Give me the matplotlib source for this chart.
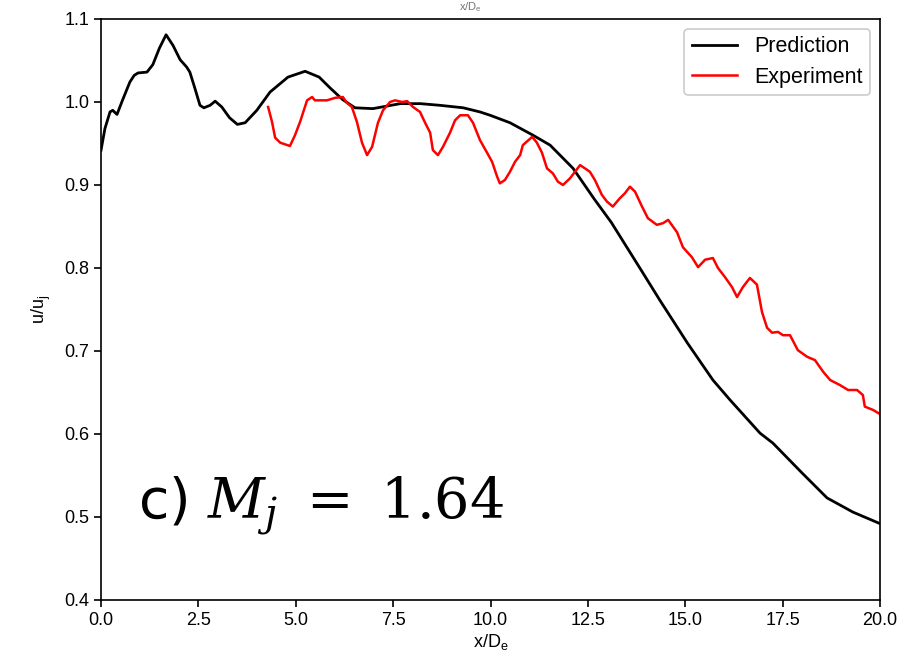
import matplotlib
matplotlib.use("Agg")
import matplotlib.pyplot as plt

plt.rcParams['font.family'] = ['Liberation Sans', 'DejaVu Sans']
plt.rcParams['mathtext.fontset'] = 'custom'
plt.rcParams['mathtext.rm'] = 'Liberation Sans'
plt.rcParams['mathtext.it'] = 'Liberation Sans:italic'

# prediction (black)
x_pred = [0, 0.1, 0.23, 0.3, 0.41, 0.55, 0.74, 0.85, 0.95, 1.18, 1.33, 1.5, 1.67, 1.85,
          2.03, 2.2, 2.28, 2.4, 2.54, 2.64, 2.8, 2.93, 3.1, 3.3, 3.5, 3.7, 4.0, 4.34,
          4.8, 5.24, 5.6, 5.88, 6.2, 6.52, 6.98, 7.68, 8.2, 8.7, 9.3, 9.73, 9.99, 10.5,
          11.09, 11.53, 12.12, 12.68, 13.1, 13.5, 13.9, 14.35, 15.05, 15.71, 16.15,
          16.92, 17.25, 18.0, 18.64, 19.3, 20.0]
y_pred = [0.942, 0.968, 0.988, 0.990, 0.985, 1.002, 1.024, 1.032, 1.035, 1.036, 1.045,
          1.065, 1.081, 1.068, 1.051, 1.042, 1.036, 1.018, 0.996, 0.993, 0.996, 1.001,
          0.994, 0.981, 0.973, 0.975, 0.990, 1.012, 1.030, 1.037, 1.030, 1.017, 1.003,
          0.993, 0.992, 0.998, 0.998, 0.996, 0.993, 0.988, 0.984, 0.975, 0.960, 0.948,
          0.920, 0.882, 0.855, 0.825, 0.795, 0.761, 0.710, 0.665, 0.641, 0.601, 0.589,
          0.553, 0.523, 0.506, 0.492]

# experiment (red)
x_exp = [4.29, 4.39, 4.47, 4.6, 4.85, 4.98, 5.11, 5.29, 5.42, 5.49, 5.8, 6.01, 6.21,
         6.31, 6.44, 6.57, 6.7, 6.83, 6.96, 7.11, 7.24, 7.42, 7.55, 7.73, 7.86, 8.01,
         8.19, 8.32, 8.45, 8.52, 8.65, 8.78, 8.96, 9.09, 9.22, 9.42, 9.55, 9.73, 9.91,
         10.04, 10.17, 10.24, 10.37, 10.5, 10.63, 10.76, 10.83, 11.07, 11.19, 11.32,
         11.45, 11.6, 11.73, 11.86, 12.04, 12.3, 12.55, 12.68, 12.86, 12.99, 13.14,
         13.32, 13.45, 13.58, 13.71, 13.89, 14.04, 14.27, 14.43, 14.56, 14.79, 14.94,
         15.17, 15.33, 15.51, 15.71, 15.84, 16.02, 16.2, 16.33, 16.48, 16.66, 16.84,
         16.97, 17.1, 17.23, 17.38, 17.51, 17.69, 17.89, 18.13, 18.33, 18.54, 18.72,
         18.97, 19.18, 19.41, 19.56, 19.61, 19.82, 20.0]
y_exp = [0.994, 0.976, 0.957, 0.951, 0.947, 0.960, 0.976, 1.002, 1.006, 1.002, 1.002,
         1.005, 1.006, 0.999, 0.994, 0.976, 0.951, 0.936, 0.946, 0.975, 0.990, 1.000,
         1.002, 1.000, 1.001, 0.994, 0.988, 0.975, 0.963, 0.942, 0.936, 0.946, 0.963,
         0.978, 0.984, 0.984, 0.975, 0.954, 0.939, 0.928, 0.910, 0.902, 0.906, 0.916,
         0.928, 0.936, 0.948, 0.958, 0.951, 0.939, 0.920, 0.914, 0.904, 0.900, 0.908,
         0.924, 0.916, 0.906, 0.888, 0.880, 0.874, 0.884, 0.890, 0.898, 0.892, 0.874,
         0.860, 0.852, 0.854, 0.858, 0.843, 0.825, 0.813, 0.801, 0.810, 0.812, 0.800,
         0.789, 0.777, 0.765, 0.777, 0.788, 0.780, 0.747, 0.728, 0.722, 0.723, 0.719,
         0.719, 0.701, 0.693, 0.689, 0.675, 0.665, 0.659, 0.653, 0.653, 0.647, 0.633,
         0.629, 0.624]

x_ticks = [0.0, 2.5, 5.0, 7.5, 10.0, 12.5, 15.0, 17.5, 20.0]
y_ticks = [0.4, 0.5, 0.6, 0.7, 0.8, 0.9, 1.0, 1.1]

fig = plt.figure(figsize=(9.16, 6.64), dpi=100)
ax = fig.add_axes([0.1103, 0.0964, 0.8504, 0.875])

ax.plot(x_pred, y_pred, color='black', lw=2.0, label='Prediction')
ax.plot(x_exp, y_exp, color='red', lw=1.8, label='Experiment')

ax.set_xlim(0, 20)
ax.set_ylim(0.4, 1.1)
ax.set_xticks(x_ticks)
ax.set_xticklabels(['%.1f' % v for v in x_ticks])
ax.set_yticks(y_ticks)
ax.set_yticklabels(['%.1f' % v for v in y_ticks])
ax.tick_params(labelsize=13, length=5, width=1.2)
for s in ax.spines.values():
    s.set_linewidth(1.2)

ax.set_xlabel(r'x/D$_\mathrm{e}$', fontsize=13, labelpad=2)
ax.set_ylabel(r'u/u$_\mathrm{j}$', fontsize=13, labelpad=8)

leg = ax.legend(loc='upper right', fontsize=15.5, handlelength=2.1, borderpad=0.35,
                labelspacing=0.45, handletextpad=0.8, framealpha=1,
                edgecolor='#cccccc', borderaxespad=0.45)
leg.get_frame().set_linewidth(1.2)

ax.text(0.047, 0.14, r'c) $M_j\ =\ 1.64$', transform=ax.transAxes, fontsize=40,
        math_fontfamily='dejavuserif', family=['DejaVu Sans'])

# label of the panel above, mostly lost at the top edge
fig.text(0.513, 0.999, r'x/D$_\mathrm{e}$', fontsize=8, ha='center', va='top',
         color='#777777')

fig.savefig('out.png', dpi=100)
